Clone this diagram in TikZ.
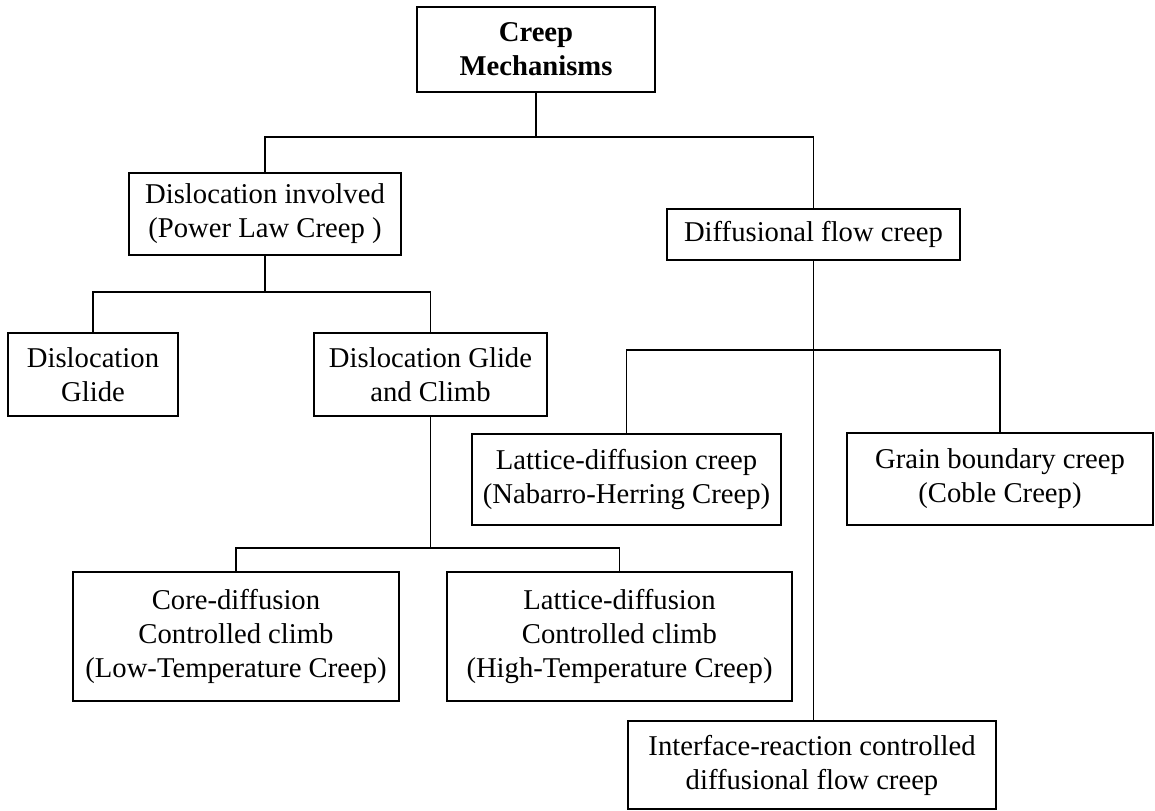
\documentclass[tikz,border=0pt]{standalone}
\usepackage{fontspec}
\setmainfont{Liberation Serif}
\usepackage{tikz}
\usetikzlibrary{positioning,calc}

\begin{document}
\begin{tikzpicture}[
      x=0.75pt, y=-0.75pt,
      mech/.style={rectangle, draw, line width=1.3pt, inner sep=0pt, align=center,
                   font=\fontsize{21.5}{25.5}\selectfont},
      topmech/.style={mech, font=\fontsize{21.5}{25.5}\selectfont\bfseries},
      size/.style 2 args={minimum width=#1*0.75pt, minimum height=#2*0.75pt},
      link/.style={line width=1.3pt}
    ]
      \useasboundingbox (0,0) rectangle (1155,810);

      % Nodes
      \node[topmech, size={238}{85}] (creep) at (536,49.5) {Creep\\Mechanisms};
      \node[mech, size={272}{82}] (disl) at (265,214) {Dislocation involved\\(Power Law Creep )};
      \node[mech, size={293}{51}] (diff) at (813.5,234.5) {Diffusional flow creep};
      \node[mech, size={170}{83}] (glide) at (93,374.5) {Dislocation\\Glide};
      \node[mech, size={233}{83}] (glclimb) at (430.5,374.5) {Dislocation Glide\\and Climb};
      \node[mech, size={309}{91}] (nabarro) at (626.5,479.5) {Lattice-diffusion creep\\(Nabarro-Herring Creep)};
      \node[mech, size={306}{92}] (coble) at (1000,479) {Grain boundary creep\\(Coble Creep)};
      \node[mech, size={326}{129}] (lowT) at (236,636.5) {Core-diffusion\\Controlled climb\\(Low-Temperature Creep)};
      \node[mech, size={345}{129}] (highT) at (619.5,636.5) {Lattice-diffusion\\Controlled climb\\(High-Temperature Creep)};
      \node[mech, size={368}{88}] (iface) at (812,765) {Interface-reaction controlled\\diffusional flow creep};

      % Bus lines
      \coordinate (bus1) at (0,137);
      \coordinate (bus2) at (0,292);
      \coordinate (bus3) at (0,350);
      \coordinate (bus4) at (0,548);

      % Connectors
      \draw[link] (creep.south) -- (creep.south |- bus1);
      \draw[link] (disl.north) |- (bus1 -| diff.north) -- (diff.north);
      \draw[link] (disl.south) -- (disl.south |- bus2);
      \draw[link] (glide.north) |- (bus2 -| glclimb.north) -- (glclimb.north);
      \draw[link] (diff.south) -- (iface.north -| diff.south);
      \draw[link] (nabarro.north) |- (bus3 -| coble.north) -- (coble.north);
      \draw[link] (glclimb.south) -- (glclimb.south |- bus4);
      \draw[link] (lowT.north) |- (bus4 -| highT.north) -- (highT.north);
    \end{tikzpicture}
\end{document}
